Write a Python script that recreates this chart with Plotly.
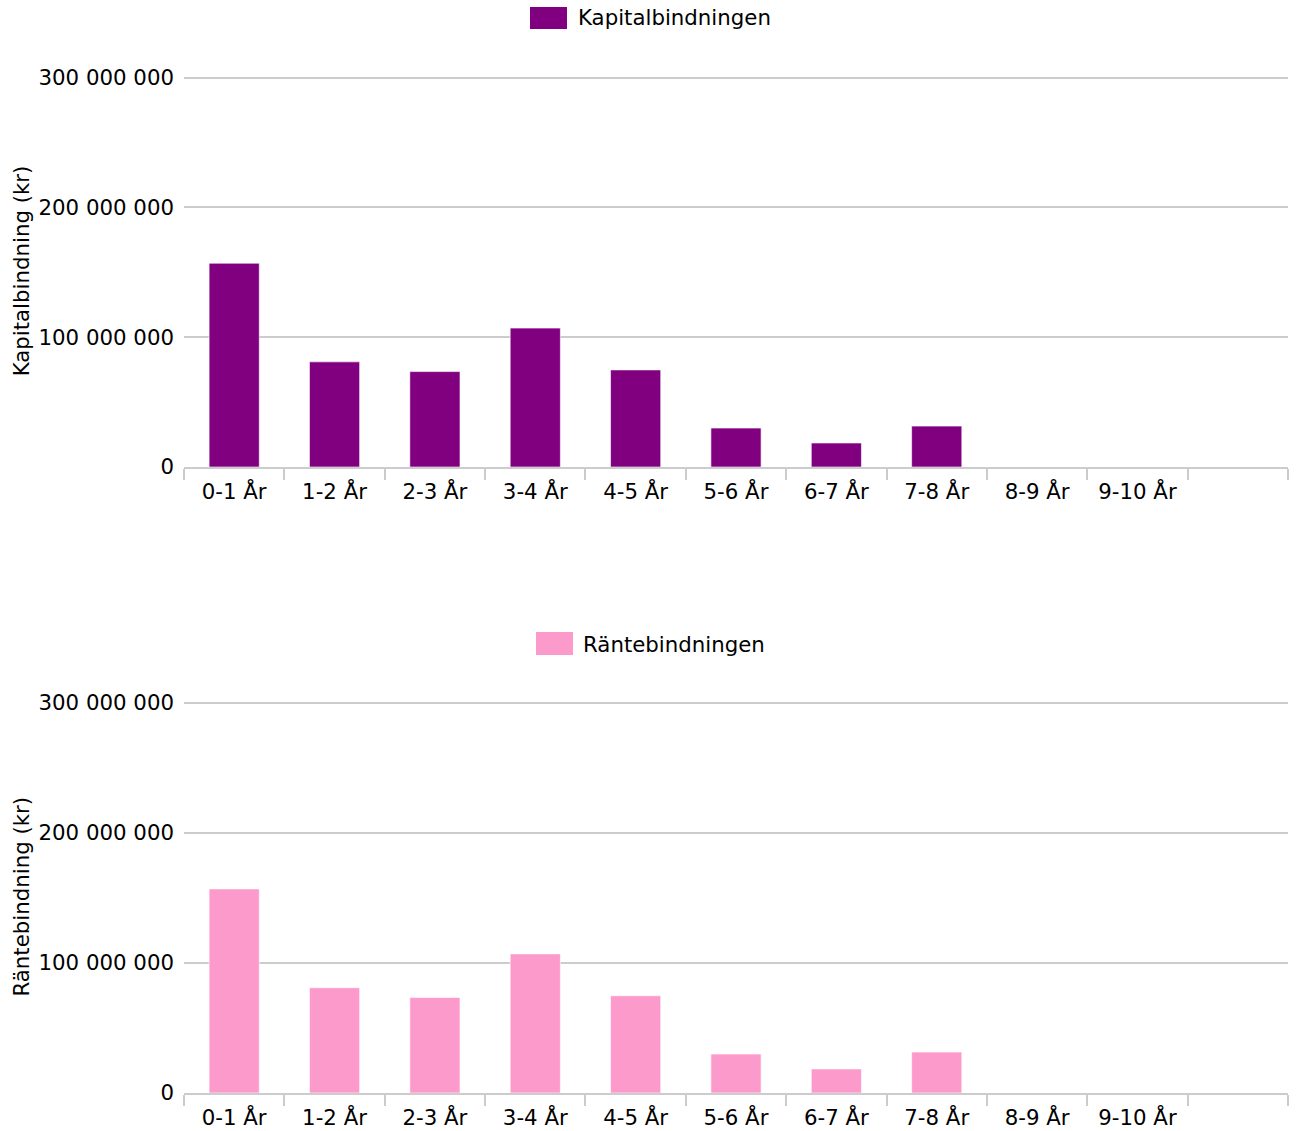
import plotly.graph_objects as go
from plotly.subplots import make_subplots

categories = ["0-1 År", "1-2 År", "2-3 År", "3-4 År", "4-5 År",
              "5-6 År", "6-7 År", "7-8 År", "8-9 År", "9-10 År"]
kapital = [157_000_000, 81_000_000, 73_500_000, 107_000_000, 74_800_000,
           30_000_000, 18_500_000, 31_500_000, 0, 0]
ranta = [157_000_000, 81_000_000, 73_500_000, 107_000_000, 74_800_000,
         30_000_000, 18_500_000, 31_500_000, 0, 0]
series_names = ["Kapitalbindningen", "Räntebindningen"]
axis_titles = ["Kapitalbindning (kr)", "Räntebindning (kr)"]
colors = ["#800080", "#fd9acc"]
y_ticks = [0, 100_000_000, 200_000_000, 300_000_000]

W, H = 1297, 1131
ML, MR, MT, MB = 184, 9, 75, 1131 - 1093
FONT = dict(family="DejaVu Sans", size=21.3, color="#000000")
GRID = "#cccccc"
Y_TOP = 302_000_000
PANEL_PX = 390 * Y_TOP / 300_000_000

x_all = categories + [" "]

fig = make_subplots(rows=2, cols=1)
for i, (vals, name, col) in enumerate(zip([kapital, ranta], series_names, colors), start=1):
    fig.add_trace(go.Bar(
        x=x_all, y=vals + [None], name=name, width=0.5,
        marker=dict(color=col, line=dict(color="rgba(255,255,255,0.6)", width=1)),
        showlegend=False,
    ), row=i, col=1)
    fig.update_xaxes(
        type="category", categoryorder="array", categoryarray=x_all,
        range=[-0.5, 10.5], tickson="boundaries", ticks="outside", ticklen=11,
        tickwidth=2, tickcolor=GRID, showline=True, linecolor=GRID, linewidth=2,
        showgrid=False, tickfont=FONT, ticklabelstandoff=4, row=i, col=1)
    fig.update_yaxes(
        range=[0, Y_TOP], tickvals=y_ticks, tickformat=",d",
        showgrid=True, gridcolor=GRID, gridwidth=2, zeroline=False, showline=False,
        ticks="", ticklabelstandoff=9, tickfont=FONT,
        title=dict(text=axis_titles[i - 1], font=FONT, standoff=3),
        row=i, col=1)

PH = H - MT - MB
top_bottom = (1093 - 467) / PH
fig.update_layout(
    yaxis=dict(domain=[top_bottom, min(1.0, top_bottom + PANEL_PX / PH)]),
    yaxis2=dict(domain=[0.0, PANEL_PX / PH]),
    xaxis=dict(domain=[0, 1]), xaxis2=dict(domain=[0, 1]),
)

# legend-style labels above each panel (page pixel positions)
def px_x(px):
    return (px - ML) / (W - ML - MR)

def px_y(py):
    return (H - MB - py) / PH

legend_boxes = [(530, 7, 567, 29, 576, 18), (536, 632, 573, 655, 581, 644)]
for (x0, y0, x1, y1, tx, ty), name, col in zip(legend_boxes, series_names, colors):
    fig.add_shape(type="rect", xref="paper", yref="paper",
                  x0=px_x(x0), x1=px_x(x1), y0=px_y(y1), y1=px_y(y0),
                  fillcolor=col, line=dict(width=0))
    fig.add_annotation(xref="paper", yref="paper", x=px_x(tx), y=px_y(ty),
                       text=name, showarrow=False, xanchor="left", yanchor="middle",
                       font=FONT)

fig.update_layout(
    width=W, height=H, separators=", ",
    margin=dict(l=ML, r=MR, t=MT, b=MB, autoexpand=False),
    paper_bgcolor="white", plot_bgcolor="white",
    font=FONT, bargap=0.5,
)
fig.update_xaxes(automargin=False)
fig.update_yaxes(automargin=False)

fig.write_html(
    "out.html",
    config={"displayModeBar": False},
    post_script="document.body.style.margin='0';document.body.style.overflow='hidden';",
)
